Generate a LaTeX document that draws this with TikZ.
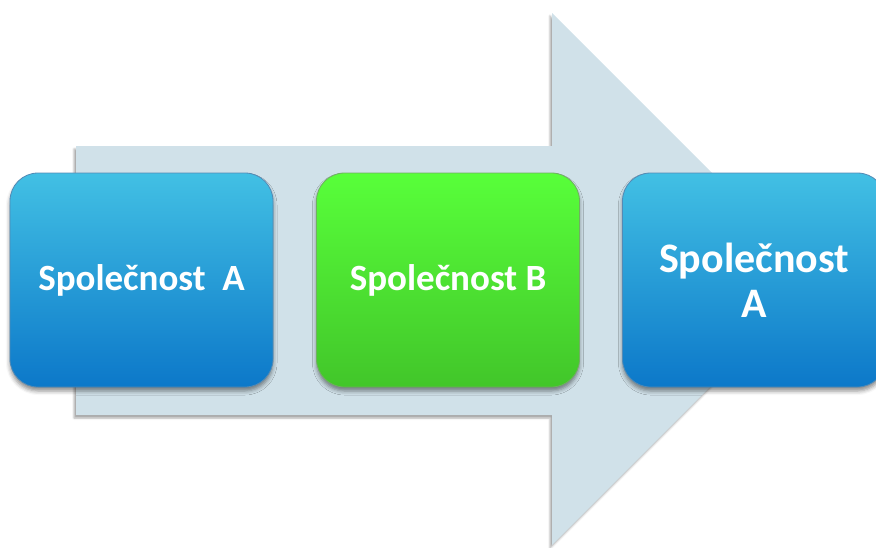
\documentclass[tikz,border=0pt]{standalone}
\usepackage{fontspec}
\setmainfont{Carlito}
\usetikzlibrary{shadows.blur}

\definecolor{arrowfill}{RGB}{208,225,233}
\definecolor{bluetop}{RGB}{66,192,228}
\definecolor{bluebot}{RGB}{12,120,201}
\definecolor{blueedge}{RGB}{10,88,150}
\definecolor{greentop}{RGB}{88,255,58}
\definecolor{greenbot}{RGB}{66,198,42}
\definecolor{greenedge}{RGB}{50,140,30}

\tikzset{
  company/.style={
    rectangle, rounded corners=28pt,
    minimum width=263pt, minimum height=214pt,
    line width=0.8pt, text=white, align=center,
    font=\bfseries\fontsize{37}{45}\selectfont,
    blur shadow={shadow xshift=0pt, shadow yshift=-4pt,
                 shadow blur radius=4pt, shadow opacity=45}
  },
  bluebox/.style={company, top color=bluetop, bottom color=bluebot, draw=blueedge!70},
  greenbox/.style={company, top color=greentop, bottom color=greenbot, draw=greenedge!70},
  flowarrow/.style={fill=arrowfill,
    blur shadow={shadow xshift=-2pt, shadow yshift=-3pt,
                 shadow blur radius=2pt, shadow opacity=35}}
}

\begin{document}
\begin{tikzpicture}[x=1pt,y=-1pt]
  \useasboundingbox (0,0) rectangle (876,547);
  \clip (0,0) rectangle (876,547);

  % broad background arrow
  \fill[flowarrow] (76,146) -- (552,146) -- (552,13) -- (818,279)
        -- (552,545) -- (552,415) -- (76,415) -- cycle;

  % the three companies along the arrow
  \node[bluebox]  (a1) at (141.5,280) {Společnost\ \ A};
  \node[greenbox] (b)  at (448,280)   {Společnost B};
  \node[bluebox, font=\bfseries\fontsize{42}{45}\selectfont]
                  (a2) at (754,280)   {Společnost\\A};
\end{tikzpicture}
\end{document}
